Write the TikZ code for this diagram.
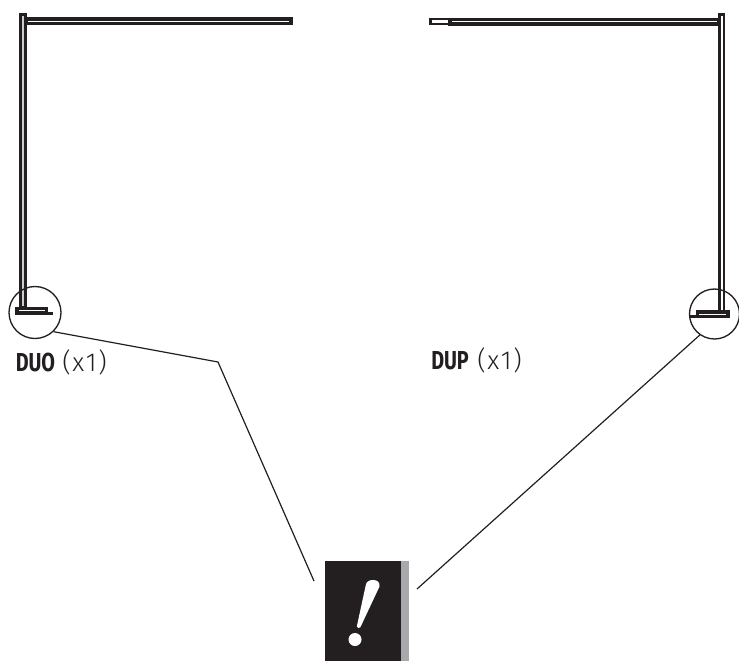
\documentclass[tikz,border=0pt]{standalone}
\usepackage{fontspec}
\setmainfont[FakeStretch=0.76]{Fira Sans}
\newfontfamily\lightfont[LetterSpace=7]{Fira Sans Light}
\usetikzlibrary{positioning}
\definecolor{heavyblack}{RGB}{35,31,32}
\definecolor{sidegray}{RGB}{167,169,172}
\tikzset{
    pole/.style={draw=heavyblack,line width=2.6pt,fill=white},
    tip/.style={draw=heavyblack,line width=1.8pt,fill=white},
    lens/.style={circle,draw=heavyblack,line width=1pt,inner sep=0pt},
    callout/.style={draw=heavyblack,line width=0.9pt},
    tag/.style={anchor=base west,inner sep=0pt,text=heavyblack,font=\fontsize{19.5}{22}\selectfont}
}

\begin{document}
\begin{tikzpicture}[x=0.75pt,y=-0.75pt]
    \useasboundingbox (0,0) rectangle (739,661);

    % Left lamp
    \draw[pole] (26,19) rectangle (291,23.5);
    \draw[pole,fill=black!20] (20.5,14.5) rectangle (25.5,308);
    \draw[pole] (17,308.5) rectangle (46.5,313);
    \draw[heavyblack,line width=2.3pt] (46,313.3) -- (53,313.3);

    % Right lamp
    \draw[tip] (430.5,19) rectangle (450,24);
    \draw[pole] (450,19.3) rectangle (719,23.8);
    \draw[pole,line width=2.2pt] (719.6,14.5) rectangle (724,311);
    \draw[pole] (697.5,312) rectangle (728,316.3);
    \draw[heavyblack,line width=2.3pt] (698,316.8) -- (690,316.8);

    % Detail circles
    \node[lens,minimum size=39pt] (duolens) at (35,312.5) {};
    \node[lens,minimum size=37.5pt] (duplens) at (714.5,314) {};

    % Labels
    \node[tag] (duotag) at (15.5,371.7) {\textbf{DUO}};
    \node[tag] (duocount) at (62,371.7) {\lightfont (x1)};
    \node[tag] (duptag) at (431,369.5) {\textbf{DUP}};
    \node[tag] (dupcount) at (477,369.5) {\lightfont (x1)};

    % Warning mark
    \node[minimum width=57pt,minimum height=75pt,inner sep=0pt,fill=heavyblack] (warn) at (362.5,611) {};
    \node[minimum width=6pt,minimum height=75pt,inner sep=0pt,fill=sidegray,right=0pt of warn] (warnside) {};
    \fill[white] (356.8,626.5) -- (365.8,585) .. controls (366.5,578) and (381,578) .. (379.5,586.5)
        -- (360.5,627) .. controls (360,628.5) and (356.8,628.5) .. (356.8,626.5) -- cycle;
    \fill[white] (355,639.5) circle[radius=6.5];

    % Callouts
    \coordinate (duobend) at (218,362);
    \coordinate (warnleft) at (314,581);
    \coordinate (warnright) at (417,589);
    \draw[callout] (duolens.-46) -- (duobend) -- (warnleft);
    \draw[callout] (duplens.235) -- (warnright);
\end{tikzpicture}
\end{document}
